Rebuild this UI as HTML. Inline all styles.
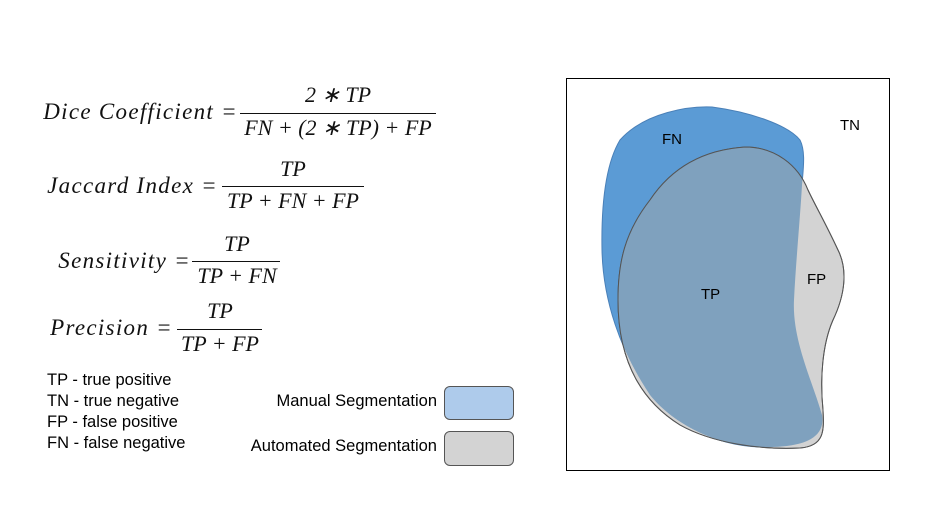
<!DOCTYPE html>
<html><head><meta charset="utf-8"><style>
body{margin:0;background:#fff;width:947px;height:522px;overflow:hidden;position:relative;font-family:"Liberation Sans",sans-serif}
.m{position:absolute;font-family:"Liberation Serif",serif;font-style:italic;font-size:22px;color:#111;white-space:nowrap}
.lb{font-size:23px;letter-spacing:1.3px;text-align:right}
.c{transform:translateX(-50%)}
.ln{position:absolute;height:1px;background:#111}
.t{position:absolute;font-size:16.5px;color:#000;white-space:nowrap}
.box{position:absolute;border:1px solid #555;border-radius:6px}
</style></head><body>
<div class="m lb" style="right:709px;top:99px">Dice Coefficient =</div>
<div class="m c" style="left:338px;top:82px">2 ∗ TP</div>
<div class="ln" style="left:240px;top:113px;width:196px"></div>
<div class="m c" style="left:338px;top:115px">FN + (2 ∗ TP) + FP</div>

<div class="m lb" style="right:729px;top:173px">Jaccard Index =</div>
<div class="m c" style="left:293px;top:156px">TP</div>
<div class="ln" style="left:222px;top:186px;width:142px"></div>
<div class="m c" style="left:293px;top:188px">TP + FN + FP</div>

<div class="m lb" style="right:756px;top:248px">Sensitivity =</div>
<div class="m c" style="left:237px;top:231px">TP</div>
<div class="ln" style="left:192px;top:261px;width:88px"></div>
<div class="m c" style="left:237px;top:263px">TP + FN</div>

<div class="m lb" style="right:774px;top:315px">Precision =</div>
<div class="m c" style="left:220px;top:298px">TP</div>
<div class="ln" style="left:177px;top:329px;width:85px"></div>
<div class="m c" style="left:220px;top:331px">TP + FP</div>

<div class="t" style="left:47px;top:371px">TP - true positive</div>
<div class="t" style="left:47px;top:392px">TN - true negative</div>
<div class="t" style="left:47px;top:413px">FP - false positive</div>
<div class="t" style="left:47px;top:434px">FN - false negative</div>

<div class="t" style="right:510px;top:392px">Manual Segmentation</div>
<div class="box" style="left:444px;top:386px;width:68px;height:32px;background:#aecbeb"></div>
<div class="t" style="right:510px;top:437px">Automated Segmentation</div>
<div class="box" style="left:444px;top:431px;width:68px;height:33px;background:#d3d3d3"></div>

<svg style="position:absolute;left:0;top:0" width="947" height="522">
<defs>
<path id="blue" d="M620,140 C645,112 690,106 712,107 C750,112 788,125 800,140 C806,152 803,170 802,185 C800,220 796,260 794,300 C792,340 812,380 822,415 C826,440 800,448 760,447 C710,445 670,420 650,395 C620,350 603,300 602,250 C601,195 608,160 620,140 Z"/>
<path id="gray" d="M745,147 C700,150 670,170 650,200 C625,232 618,262 618,300 C618,360 640,400 680,425 C712,443 760,450 800,448 C825,446 824,430 823,410 C820,380 822,345 833,320 C845,295 848,270 838,250 C825,222 815,205 808,190 C798,165 775,147 745,147 Z"/>
<clipPath id="cb"><use href="#blue"/></clipPath>
</defs>
<rect x="566.5" y="78.5" width="323" height="392" fill="none" stroke="#000" stroke-width="1"/>
<use href="#blue" fill="#5b9bd5" stroke="#4a80b8" stroke-width="1"/>
<use href="#gray" fill="#d3d3d3" stroke="#555" stroke-width="1"/>
<use href="#gray" fill="#7fa1be" clip-path="url(#cb)"/>
<use href="#gray" fill="none" stroke="#555" stroke-width="1"/>
<g font-family="Liberation Sans, sans-serif" font-size="15" fill="#000">
<text x="662" y="144">FN</text>
<text x="840" y="130">TN</text>
<text x="701" y="299">TP</text>
<text x="807" y="284">FP</text>
</g>
</svg>
</body></html>
